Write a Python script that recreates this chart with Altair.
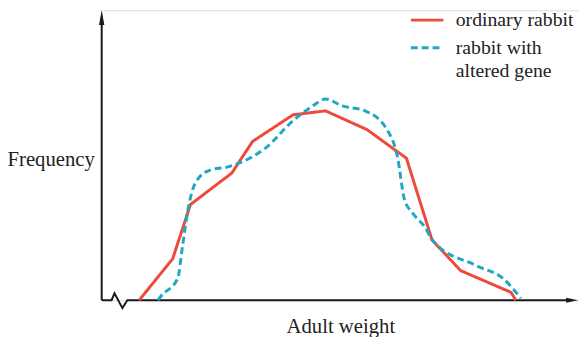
import altair as alt
import pandas as pd

# Series (arbitrary units: weight along x, frequency up y)
series_names = ["ordinary rabbit", "rabbit with altered gene"]
weight_ordinary = [38, 72, 90, 132, 153, 194, 227, 269, 309, 335, 364, 415, 420]
freq_ordinary = [0, 42, 97, 129, 161, 188, 192, 173, 144, 61, 30, 8, 0]
weight_altered = [57, 60, 77, 82, 87, 95, 110, 127, 150, 167, 194, 214, 227, 244,
                  267, 290, 300, 307, 314, 327, 337, 380, 407, 425]
freq_altered = [0, 4, 22, 55, 89, 119, 132, 135, 144, 155, 182, 197, 204, 197,
                192, 172, 145, 102, 90, 75, 59, 35, 22, 2]

# Drawn axes (x axis with a break zig-zag), in the same data units
x_axis_weight = [0, 10, 13, 21, 26, 476]
x_axis_freq = [0, 0, 7, -8, 0, 0]
y_axis_weight = [0, 0]
y_axis_freq = [0, 286]
arrow_up = {"weight": [0], "freq": [286.5]}
arrow_right = {"weight": [477], "freq": [0]}

RED = "#ee4a3b"
CYAN = "#20a8c2"
INK = "#1a1a1a"
FONT = "Liberation Serif"
FS = 21
LFS = 20

ord_df = pd.DataFrame({"weight": weight_ordinary, "freq": freq_ordinary,
                       "series": series_names[0]})
alt_df = pd.DataFrame({"weight": weight_altered, "freq": freq_altered,
                       "series": series_names[1]})
xaxis_df = pd.DataFrame({"weight": x_axis_weight, "freq": x_axis_freq}).reset_index()
yaxis_df = pd.DataFrame({"weight": y_axis_weight, "freq": y_axis_freq})

X = alt.X("weight:Q", scale=alt.Scale(domain=[0, 484], nice=False, zero=False),
          axis=alt.Axis(title="Adult weight", domain=False, ticks=False, labels=False,
                        grid=False, titleX=242, titleY=33, titleAlign="center",
                        titleBaseline="alphabetic", titleFont=FONT, titleFontSize=FS,
                        titleFontWeight="normal", titleColor="#222"))
Y = alt.Y("freq:Q", scale=alt.Scale(domain=[0, 294], nice=False, zero=False),
          axis=alt.Axis(title="Frequency", domain=False, ticks=False, labels=False,
                        grid=False, titleAngle=0, titleX=-96, titleY=157,
                        titleAlign="left", titleBaseline="alphabetic", titleFont=FONT,
                        titleFontSize=FS, titleFontWeight="normal", titleColor="#222"))

legend = alt.Legend(orient="none", legendX=312, legendY=-8, title=None, padding=0,
                    symbolType="stroke", symbolSize=1089, symbolStrokeWidth=3,
                    labelFont=FONT, labelFontSize=LFS, labelColor="#222",
                    labelOffset=11, rowPadding=-5, labelLimit=300,
                    labelExpr="datum.label == 'rabbit with altered gene' ? ['rabbit with', 'altered gene'] : datum.label")
color = alt.Color("series:N", scale=alt.Scale(domain=series_names, range=[RED, CYAN]),
                  legend=legend)
dash = alt.StrokeDash("series:N", scale=alt.Scale(domain=series_names,
                                                  range=[[1, 0], [7, 4]]),
                      legend=legend)

axis_x_line = alt.Chart(xaxis_df).mark_line(color=INK, strokeWidth=2).encode(
    x=X, y=Y, order=alt.Order("index:Q"))
axis_y_line = alt.Chart(yaxis_df).mark_line(color=INK, strokeWidth=2).encode(x=X, y=Y)
up = alt.Chart(pd.DataFrame(arrow_up)).mark_point(
    shape="M0,-1L0.36,1L-0.36,1Z", size=225, filled=True, color=INK, opacity=1
).encode(x=X, y=Y)
right = alt.Chart(pd.DataFrame(arrow_right)).mark_point(
    shape="M1,0L-1,-0.42L-1,0.42Z", size=144, filled=True, color=INK, opacity=1
).encode(x=X, y=Y)

red_line = alt.Chart(ord_df).mark_line(strokeWidth=3).encode(
    x=X, y=Y, color=color, strokeDash=dash)
cyan_line = alt.Chart(alt_df).mark_line(strokeWidth=3, interpolate="monotone").encode(
    x=X, y=Y, color=color, strokeDash=dash)

chart = alt.layer(axis_x_line, axis_y_line, up, right, red_line, cyan_line).properties(
    width=484, height=294,
    autosize=alt.AutoSizeParams(type="none"),
    padding={"left": 95, "top": 0, "right": 0, "bottom": 35},
).configure_view(stroke=None).configure(
    background="white",
    font=FONT,
    style={"guide-label": {"font": FONT, "fontSize": LFS, "lineHeight": 24}},
).configure_legend(labelFont=FONT, labelFontSize=LFS, labelColor="#222")

chart.save("out.html", embed_options={"renderer": "svg", "actions": False})
